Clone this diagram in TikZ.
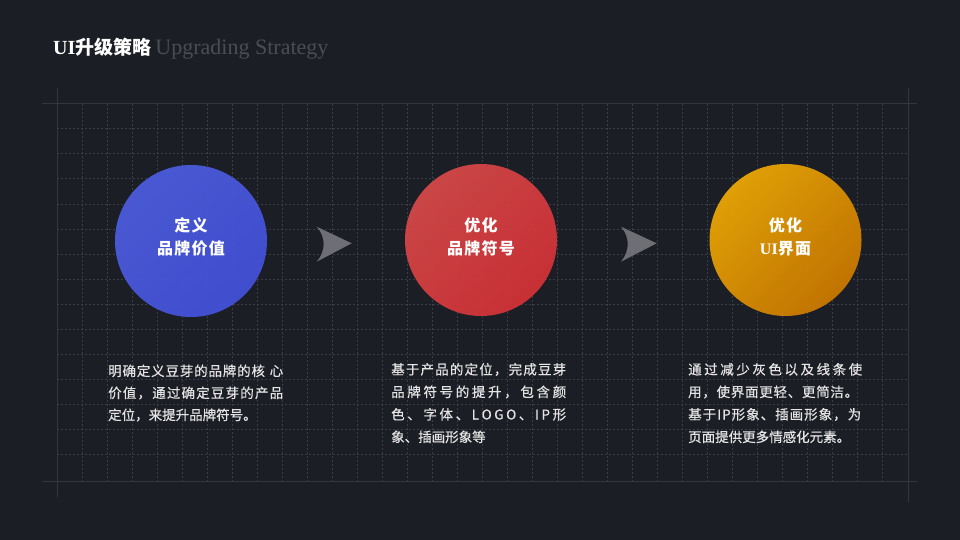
\documentclass[tikz,border=0pt]{standalone}
\usepackage{fontspec}
\setmainfont{Noto Sans CJK SC}
\newfontfamily\cjk{Noto Sans CJK SC}
\newfontfamily\cjkbody[FakeBold=0.5]{Noto Sans CJK SC}
\newfontfamily\cjkls[LetterSpace=8]{Noto Sans CJK SC}
\newfontfamily\latserif{Liberation Serif}
\makeatletter
\def\sp@loop#1{\ifx#1\@nil\unskip\else#1\hskip0pt plus 1fil\relax\expandafter\sp@loop\fi}
\newcommand\spreadline[2]{\hbox to #1{\sp@loop#2\@nil}}
\makeatother
\definecolor{bg}{HTML}{1C1E25}
\definecolor{gridsolid}{HTML}{33353F}
\definecolor{griddot}{HTML}{3B3D47}
\definecolor{arrowgray}{HTML}{6E6F74}
\definecolor{bodytext}{HTML}{E4E4E4}
\definecolor{subtitle}{HTML}{4A4D55}
\definecolor{blueA}{HTML}{4B5BDA}
\definecolor{blueB}{HTML}{4250D5}
\definecolor{redA}{HTML}{D24848}
\definecolor{redB}{HTML}{CF3136}
\definecolor{orangeA}{HTML}{E7A505}
\definecolor{orangeB}{HTML}{C87700}
\tikzset{
  x=1pt, y=-1pt,
  solidline/.style={draw=gridsolid, line width=1pt},
  dotline/.style={draw=griddot, line width=1pt, dash pattern=on 2pt off 2pt},
  stepcircle/.style={circle, minimum size=152pt, inner sep=0pt, fill opacity=0.96},
  circletext/.style={text=white, align=center, font=\cjkls\bfseries\fontsize{16}{23}\selectfont, inner sep=0pt},
  bodyline/.style={text=bodytext, anchor=base west, inner sep=0pt, font=\cjkbody\fontsize{13.5}{22}\selectfont},
  chevron/.style={fill=arrowgray, draw=none}
}
\begin{document}
\begin{tikzpicture}
\useasboundingbox[fill=bg] (0,0) rectangle (960,540);
% dotted grid
\foreach \k in {0,...,32} {
  \draw[dotline] (82+25*\k,104) -- (82+25*\k,481);
}
\foreach \k in {0,...,13} {
  \draw[dotline] (57,129+25*\k) -- (908,129+25*\k);
}
% solid frame lines
\draw[solidline] (42,104) -- (917,104);
\draw[solidline] (42,481.5) -- (917,481.5);
\draw[solidline] (57,88) -- (57,497);
\draw[solidline] (908,88) -- (908,502);
% title
\node[anchor=base west, inner sep=0pt, text=white, font=\fontsize{19}{24}\selectfont\bfseries] (title) at (53,55)
  {{\latserif\fontsize{20}{24}\selectfont UI}\cjk 升级策略};
\node[anchor=base west, inner sep=0pt, text=subtitle, font=\latserif\fontsize{22}{24}\selectfont] (subtitle) at (title.base east) {\,Upgrading Strategy};
% circles
\node[stepcircle, top color=blueA, bottom color=blueB, shading angle=45] (c1) at (191,241) {};
\node[stepcircle, top color=redA, bottom color=redB, shading angle=45] (c2) at (481,240) {};
\node[stepcircle, top color=orangeA, bottom color=orangeB, shading angle=45] (c3) at (785.5,240) {};
\node[circletext] (t1) at (191,237) {定义\\品牌价值};
\node[circletext] (t2) at (481,237) {优化\\品牌符号};
\node[circletext] (t3) at (785.5,237) {优化\\{\latserif\bfseries UI}界面};
% chevrons
\fill[chevron] (316.7,226.7) -- (351.7,243.3) -- (316.7,261.7) .. controls (326,251) and (326,237) .. cycle;
\fill[chevron] (621,226.7) -- (656.7,243.3) -- (621,261.7) .. controls (630,251) and (630,237) .. cycle;
% body texts: left
\node[bodyline] (b1a) at (108,376) {\spreadline{175pt}{明确定义豆芽的品牌的核{\ }心}};
\node[bodyline] (b1b) at (108,398) {\spreadline{175pt}{价值，通过确定豆芽的产品}};
\node[bodyline] (b1c) at (108,420) {定位，来提升品牌符号。};
% middle
\node[bodyline] (b2a) at (391,374.5) {\spreadline{175pt}{基于产品的定位，完成豆芽}};
\node[bodyline] (b2b) at (391,397) {\spreadline{175pt}{品牌符号的提升，包含颜}};
\node[bodyline] (b2c) at (391,419.5) {\spreadline{175pt}{色、字体、LOGO、IP形}};
\node[bodyline] (b2d) at (391,442) {象、插画形象等};
% right
\node[bodyline] (b3a) at (688,374.5) {\spreadline{174pt}{通过减少灰色以及线条使}};
\node[bodyline] (b3b) at (688,397) {\spreadline{170pt}{用，使界面更轻、更简洁。}};
\node[bodyline] (b3c) at (688,419.5) {\spreadline{173pt}{基于IP形象、插画形象，为}};
\node[bodyline] (b3d) at (688,442) {页面提供更多情感化元素。};
\end{tikzpicture}
\end{document}
